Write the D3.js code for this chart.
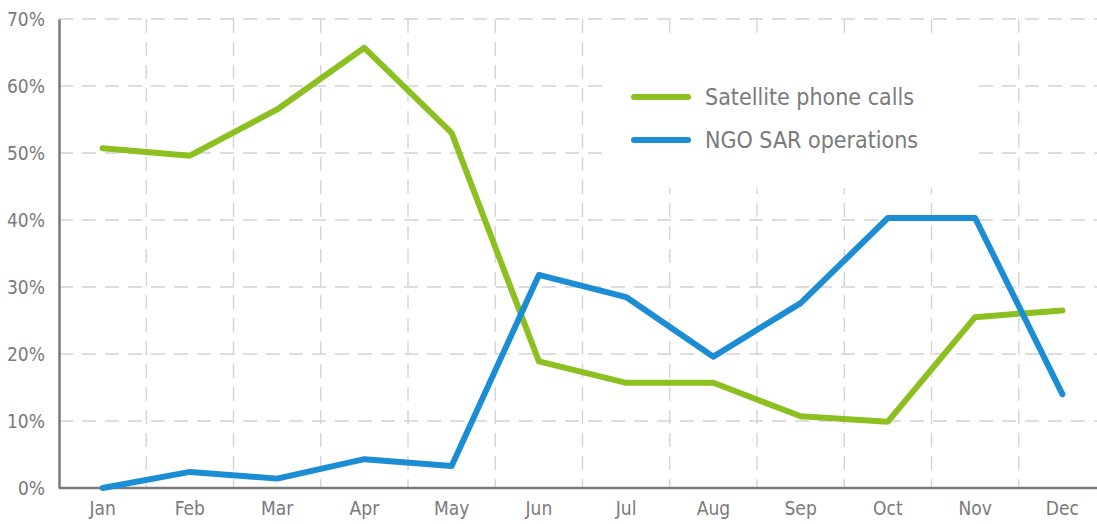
<!DOCTYPE html>
<html>
<head>
<meta charset="utf-8">
<script src="https://cdn.jsdelivr.net/npm/d3@7.9.0/dist/d3.min.js"></script>
<style>
  body { margin: 0; background: #fff; }
  text { font-family: "Liberation Sans Narrow", "DejaVu Sans Condensed", "Roboto Condensed", sans-serif; fill: #7a7a7a; }
</style>
</head>
<body>
<svg id="chart" width="1097" height="524"></svg>
<script>
// data
const months = ['Jan', 'Feb', 'Mar', 'Apr', 'May', 'Jun', 'Jul', 'Aug', 'Sep', 'Oct', 'Nov', 'Dec'];
const satelliteCalls = [50.7, 49.6, 56.5, 65.7, 53.0, 18.9, 15.7, 15.7, 10.7, 9.9, 25.5, 26.5];
const ngoSar = [0, 2.4, 1.4, 4.3, 3.3, 31.8, 28.5, 19.6, 27.6, 40.3, 40.3, 14.0];
const yTicks = [0, 10, 20, 30, 40, 50, 60, 70];
const seriesNames = ['Satellite phone calls', 'NGO SAR operations'];
const colors = ['#8cc021', '#1a8dd4'];

const svg = d3.select('#chart');
const mLeft = 59, mRight = 1106, mTop = 19, mBottom = 488;

const x = d3.scaleBand().domain(months).range([mLeft, mRight]);
const y = d3.scaleLinear().domain([0, 70]).range([mBottom, mTop]);

// horizontal grid
svg.append('g').selectAll('line').data(yTicks.filter(d => d > 0)).enter().append('line')
    .attr('x1', mLeft).attr('x2', 1097)
    .attr('y1', d => y(d)).attr('y2', d => y(d))
    .attr('stroke', '#d2d2d2').attr('stroke-width', 1.3)
    .attr('stroke-dasharray', '14,9');

// vertical grid at band edges
svg.append('g').selectAll('line').data(months.slice(1)).enter().append('line')
    .attr('x1', d => x(d)).attr('x2', d => x(d))
    .attr('y1', mTop).attr('y2', mBottom)
    .attr('stroke', '#d2d2d2').attr('stroke-width', 1.3)
    .attr('stroke-dasharray', '14,9');

// legend background hides the grid behind it
svg.append('rect').attr('x', 604).attr('y', 42).attr('width', 368).attr('height', 146).attr('fill', '#fff');

// axes
const yAxis = svg.append('g').attr('transform', `translate(${mLeft},0)`)
    .call(d3.axisLeft(y).tickValues(yTicks).tickSize(0).tickPadding(14).tickFormat(d => d + '%'));
yAxis.select('.domain').attr('stroke', '#7a7a7a').attr('stroke-width', 2.5);
yAxis.selectAll('text').style('font-size', '19px').attr('fill', '#7a7a7a');

const xAxis = svg.append('g').attr('transform', `translate(0,${mBottom})`)
    .call(d3.axisBottom(x).tickSize(0).tickPadding(14));
xAxis.select('.domain').attr('stroke', '#7a7a7a').attr('stroke-width', 2.5).attr('d', `M${mLeft},0H1097`);
xAxis.selectAll('text').style('font-size', '19px').attr('fill', '#7a7a7a');

// lines
const line = d3.line().x((d, i) => x(months[i]) + x.bandwidth() / 2).y(d => y(d));
[satelliteCalls, ngoSar].forEach((s, k) => {
    svg.append('path').datum(s).attr('d', line)
        .attr('fill', 'none').attr('stroke', colors[k]).attr('stroke-width', 6)
        .attr('stroke-linejoin', 'round').attr('stroke-linecap', 'round');
});

// legend
const lg = svg.append('g').selectAll('g').data(seriesNames).enter().append('g')
    .attr('transform', (d, i) => `translate(634,${97 + i * 43})`);
lg.append('line').attr('x1', 0).attr('x2', 54).attr('y1', 0).attr('y2', 0)
    .attr('stroke', (d, i) => colors[i]).attr('stroke-width', 6).attr('stroke-linecap', 'round');
lg.append('text').attr('x', 71).attr('y', 0).attr('dy', '0.35em')
    .style('font-size', '23px').text(d => d);
</script>
</body>
</html>
